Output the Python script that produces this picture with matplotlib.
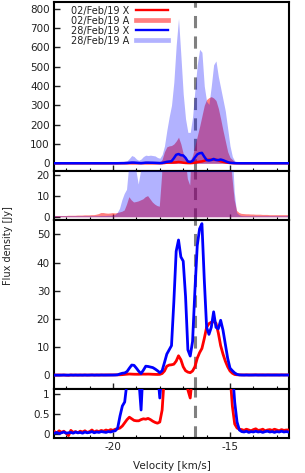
import numpy as np
import matplotlib
matplotlib.use("Agg")
import matplotlib.pyplot as plt
from matplotlib.lines import Line2D
from matplotlib.ticker import MultipleLocator

plt.rcParams['font.family'] = ['DejaVu Sans']
plt.rcParams['axes.unicode_minus'] = False

# velocity grid (km/s), 0.1 km/s channels from -22.5 to -12.5
velocity = np.round(np.arange(-22.5, -12.45, 0.1), 2)

# 02/Feb/19 X  (Jy)
feb02_X = [0.06, 0.03, 0.08, 0.04, 0.07, 0.02, -0.04, 0.09, 0.04, 0.06, 0.03, 0.07, 0.05,
           0.08, 0.04, 0.06, 0.10, 0.05, 0.08, 0.06, 0.09, 0.07, 0.10, 0.08, 0.11, 0.09,
           0.12, 0.13, 0.15, 0.20, 0.28, 0.36, 0.42, 0.38, 0.34, 0.33, 0.33, 0.36, 0.38,
           0.37, 0.39, 0.36, 0.32, 0.29, 0.27, 0.30, 0.60, 1.5, 3.2, 3.6, 3.7, 3.9, 5.0,
           6.9, 5.5, 3.0, 1.6, 1.1, 0.9, 1.5, 3.0, 6.0, 8.0, 9.5, 13.0, 17.0, 18.3, 18.8,
           19.0, 18.5, 15.0, 10.5, 7.5, 5.0, 3.0, 1.5, 0.7, 0.25, 0.15, 0.12,
           0.11, 0.09, 0.12, 0.10, 0.08, 0.11, 0.13, 0.09, 0.10, 0.12, 0.08, 0.10, 0.11,
           0.09, 0.12, 0.10, 0.08, 0.11, 0.09, 0.10, 0.10]

# 28/Feb/19 X  (Jy)
feb28_X = [0.02, 0.04, 0.01, 0.03, 0.05, 0.02, 0.03, 0.04, 0.02, 0.05, 0.03, 0.04, 0.02,
           0.05, 0.03, 0.04, 0.06, 0.03, 0.05, 0.04, 0.06, 0.05, 0.04, 0.06, 0.05, 0.07,
           0.08, 0.15, 0.45, 0.70, 0.80, 1.3, 2.5, 3.6, 3.5, 2.5, 1.4, 0.6, 1.8, 3.2, 3.1,
           2.9, 2.7, 2.2, 1.6, 0.9, 1.6, 4.5, 7.5, 9.0, 10.5, 26.0, 44.0, 48.0, 42.0, 40.5,
           28.0, 9.0, 6.8, 12.0, 30.0, 46.0, 52.0, 53.8, 34.0, 17.0, 14.5, 17.0, 22.5, 17.0,
           16.5, 19.5, 16.0, 11.0, 6.0, 2.5, 1.6, 0.8, 0.3, 0.10,
           0.06, 0.05, 0.07, 0.04, 0.06, 0.05, 0.07, 0.05, 0.06, 0.04, 0.06, 0.07, 0.05,
           0.06, 0.04, 0.06, 0.05, 0.07, 0.05, 0.06, 0.05]

# 02/Feb/19 A  (Jy)
feb02_A = [0.6, 0.6, 0.6, 0.6, 0.6, 0.6, 0.7, 0.7, 0.7, 0.7, 0.8, 0.8, 0.8, 0.9, 0.9,
           0.9, 1.0, 1.0, 1.2, 1.5, 2.0, 2.0, 1.8, 1.7, 1.8, 2.0,
           1.8, 2.0, 2.3, 2.6, 3.2, 6.0, 9.5, 8.0, 7.0, 7.2, 7.5, 8.0, 8.5, 9.5, 10.0, 8.5,
           7.0, 6.0, 5.3, 5.0, 20.0, 60.0, 85.0, 90.0, 92.0, 100.0, 115.0, 135.0, 100.0,
           50.0, 28.0, 18.0, 15.0, 40.0, 90.0, 140.0, 190.0, 245.0, 300.0, 330.0, 340.0,
           345.0, 338.0, 325.0, 285.0, 230.0, 170.0, 115.0, 60.0, 30.0, 19.0, 8.0, 3.0, 2.0,
           1.6, 1.5, 1.4, 1.4, 1.3, 1.3, 1.2, 1.2, 1.2, 1.1, 1.1, 1.1, 1.0, 1.0, 1.0, 1.0,
           1.0, 1.0, 1.0, 1.0, 1.0]

# 28/Feb/19 A  (Jy)
feb28_A = [0.5, 0.5, 0.5, 0.5, 0.5, 0.5, 0.5, 0.5, 0.5, 0.5, 0.5, 0.5, 0.5, 0.5, 0.5,
           0.5, 0.5, 0.5, 0.5, 0.5, 0.6, 0.6, 0.6, 0.7, 0.7, 0.8,
           1.0, 2.0, 4.0, 8.0, 11.0, 13.0, 25.0, 40.0, 35.0, 22.0, 15.5, 22.0, 35.0, 42.0,
           40.0, 42.0, 40.0, 38.0, 30.0, 26.0, 45.0, 90.0, 170.0, 240.0, 300.0, 420.0, 610.0,
           750.0, 560.0, 360.0, 230.0, 160.0, 160.0, 240.0, 380.0, 510.0, 590.0, 575.0,
           400.0, 320.0, 305.0, 400.0, 510.0, 530.0, 450.0, 390.0, 330.0, 270.0, 180.0, 90.0,
           35.0, 12.0, 2.0, 1.0,
           0.6, 0.5, 0.5, 0.5, 0.5, 0.5, 0.5, 0.5, 0.5, 0.5, 0.5, 0.5, 0.5, 0.5, 0.5, 0.5,
           0.5, 0.5, 0.5, 0.5, 0.5]

labels = ["02/Feb/19 X", "02/Feb/19 A", "28/Feb/19 X", "28/Feb/19 A"]
v_ref = -16.5
xlim = (-22.52, -12.48)
ylims = [(-40, 835), (-1.3, 21.9), (-4.9, 55.1), (-0.1, 1.125)]
yticks = [[0, 100, 200, 300, 400, 500, 600, 700, 800], [0, 10, 20],
          [0, 10, 20, 30, 40, 50], [0, 0.5, 1]]
yticklabels = [None, None, None, ["0", "0.5", "1"]]

fig = plt.figure(figsize=(3.05, 4.73), dpi=100)
gs = fig.add_gridspec(4, 1, height_ratios=[169, 49, 169, 49], hspace=0,
                      left=54/305, right=289/305, top=1-2/473, bottom=1-438/473)
axes = [fig.add_subplot(gs[i]) for i in range(4)]

red = "#ff0000"
blue = "#0000ff"
for i, ax in enumerate(axes):
    ax.axvline(v_ref, color="#808080", lw=2.2, dashes=(4, 2.7), zorder=1)
    if i in (0, 1):
        ax.fill_between(velocity, feb02_A, color=red, alpha=0.5, lw=0, zorder=2)
        ax.fill_between(velocity, feb28_A, color=blue, alpha=0.3, lw=0, zorder=3)
    if i in (0, 2, 3):
        lw = 1.8 if i == 0 else 2.0
        ax.plot(velocity, feb02_X, color=red, lw=lw, zorder=4)
        ax.plot(velocity, feb28_X, color=blue, lw=lw, zorder=5)
    ax.set_xlim(*xlim)
    ax.set_ylim(*ylims[i])
    ax.set_yticks(yticks[i])
    if yticklabels[i] is not None:
        ax.set_yticklabels(yticklabels[i])
    ax.xaxis.set_major_locator(MultipleLocator(5))
    ax.xaxis.set_minor_locator(MultipleLocator(1))
    ax.tick_params(axis="both", which="major", direction="in", length=4, width=1,
                   labelsize=7.5, colors="#222222", pad=3)
    ax.tick_params(axis="x", which="minor", direction="in", length=2.5, width=0.8)
    for s in ax.spines.values():
        s.set_linewidth(1.5)
    if i < 3:
        ax.tick_params(axis="x", labelbottom=False)
    else:
        ax.set_xticks([-20, -15])
        ax.set_xticklabels(["-20", "-15"])

axes[3].set_xlabel("Velocity [km/s]", fontsize=7.5, color="#222222", labelpad=6)
fig.text(0.025, 0.48, "Flux density [Jy]", rotation=90, fontsize=7,
         ha="center", va="center", color="#222222")

handles = [Line2D([], [], color=red, lw=1.7),
           Line2D([], [], color=red, alpha=0.5, lw=3.4),
           Line2D([], [], color=blue, lw=1.7),
           Line2D([], [], color=blue, alpha=0.3, lw=3.4)]
leg = axes[0].legend(handles, labels, loc="upper left", frameon=False, fontsize=7,
                     markerfirst=False, handlelength=3.3, labelspacing=0.0,
                     borderaxespad=0.0, borderpad=0.0,
                     bbox_to_anchor=(0.071, 0.978), handletextpad=0.7)
for t in leg.get_texts():
    t.set_color("#222222")

fig.savefig("out.png", dpi=100)
